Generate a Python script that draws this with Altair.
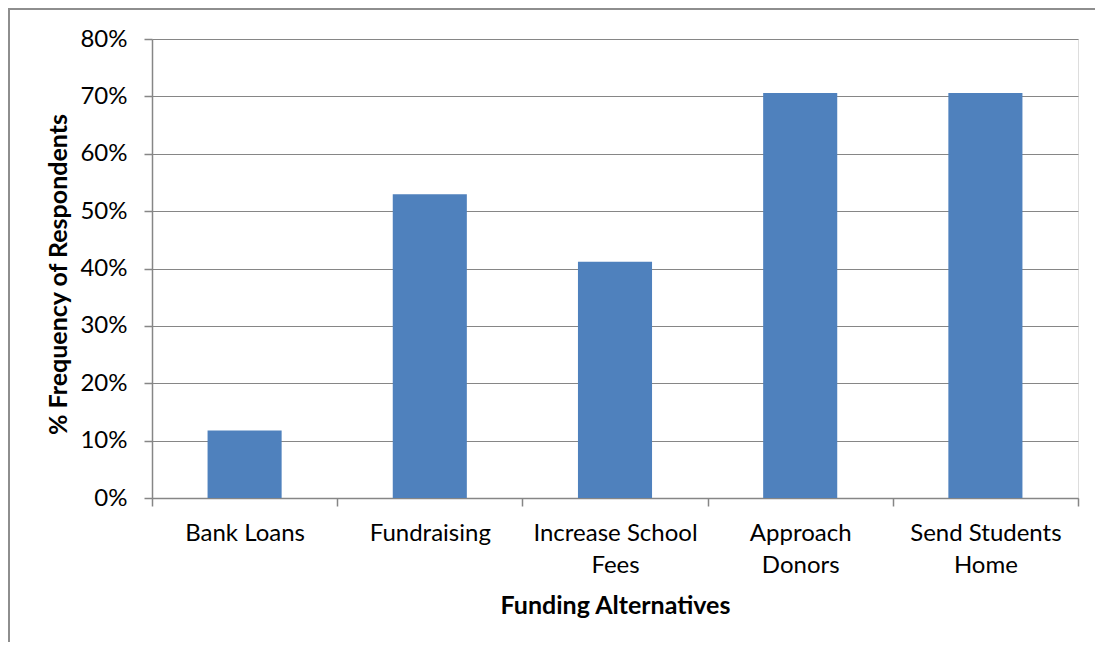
import altair as alt
import pandas as pd

categories = ["Bank Loans", "Fundraising", "Increase School\nFees", "Approach\nDonors", "Send Students\nHome"]
values = [0.1176, 0.5294, 0.4118, 0.7059, 0.7059]
y_ticks = [0, 0.1, 0.2, 0.3, 0.4, 0.5, 0.6, 0.7, 0.8]

df = pd.DataFrame({"cat": categories, "val": values})

W, H = 926, 459
GRAY = "#868686"
FONT = "Lato"

bars = alt.Chart(df).mark_bar(color="#4F81BD", width=alt.RelativeBandSize(0.4)).encode(
    x=alt.X("cat:N", sort=categories,
            scale=alt.Scale(paddingInner=0, paddingOuter=0),
            axis=alt.Axis(
                title="Funding Alternatives", labelAngle=0,
                labelExpr="split(datum.label, '\\n')",
                tickBand="extent", tickSize=8, tickColor=GRAY, domainColor=GRAY,
                domainWidth=1.5, tickWidth=1.5,
                labelFont=FONT, labelFontSize=24, labelColor="#000000",
                labelPadding=15, labelBaseline="top", labelLineHeight=32,
                titleFont=FONT, titleFontSize=25, titleFontWeight="bold", titleColor="#000000",
                titleX=W / 2, titleY=107, titleBaseline="middle", titleAlign="center",
                grid=False)),
    y=alt.Y("val:Q",
            scale=alt.Scale(domain=[0, 0.8], nice=False),
            axis=alt.Axis(
                title="% Frequency of Respondents", values=y_ticks, format=".0%",
                tickSize=8, tickColor=GRAY, domainColor=GRAY, domainWidth=1.5, tickWidth=1.5,
                gridColor=GRAY, gridWidth=1.2, grid=True,
                labelFont=FONT, labelFontSize=24, labelColor="#000000", labelPadding=17,
                titleFont=FONT, titleFontSize=25, titleFontWeight="bold", titleColor="#000000",
                titleX=-94, titleY=235, titleAngle=270, titleAlign="center",
                titleBaseline="middle")),
)

border_df = pd.DataFrame({"k": [0]})
left_border = alt.Chart(border_df).mark_rule(color="#8e8e8e", strokeWidth=2).encode(
    x=alt.value(-143), y=alt.value(-31), y2=alt.value(H + 160))
top_border = alt.Chart(border_df).mark_rule(color="#8e8e8e", strokeWidth=2).encode(
    y=alt.value(-30), x=alt.value(-144), x2=alt.value(W + 30))

chart = alt.layer(bars, left_border, top_border).properties(
    width=W, height=H,
    autosize=alt.AutoSizeParams(type="none"),
    padding={"left": 144, "top": 31, "right": 17, "bottom": 144},
).configure_view(stroke=None).configure(background="white")

chart.save("out.html", embed_options={"renderer": "svg", "actions": False})
